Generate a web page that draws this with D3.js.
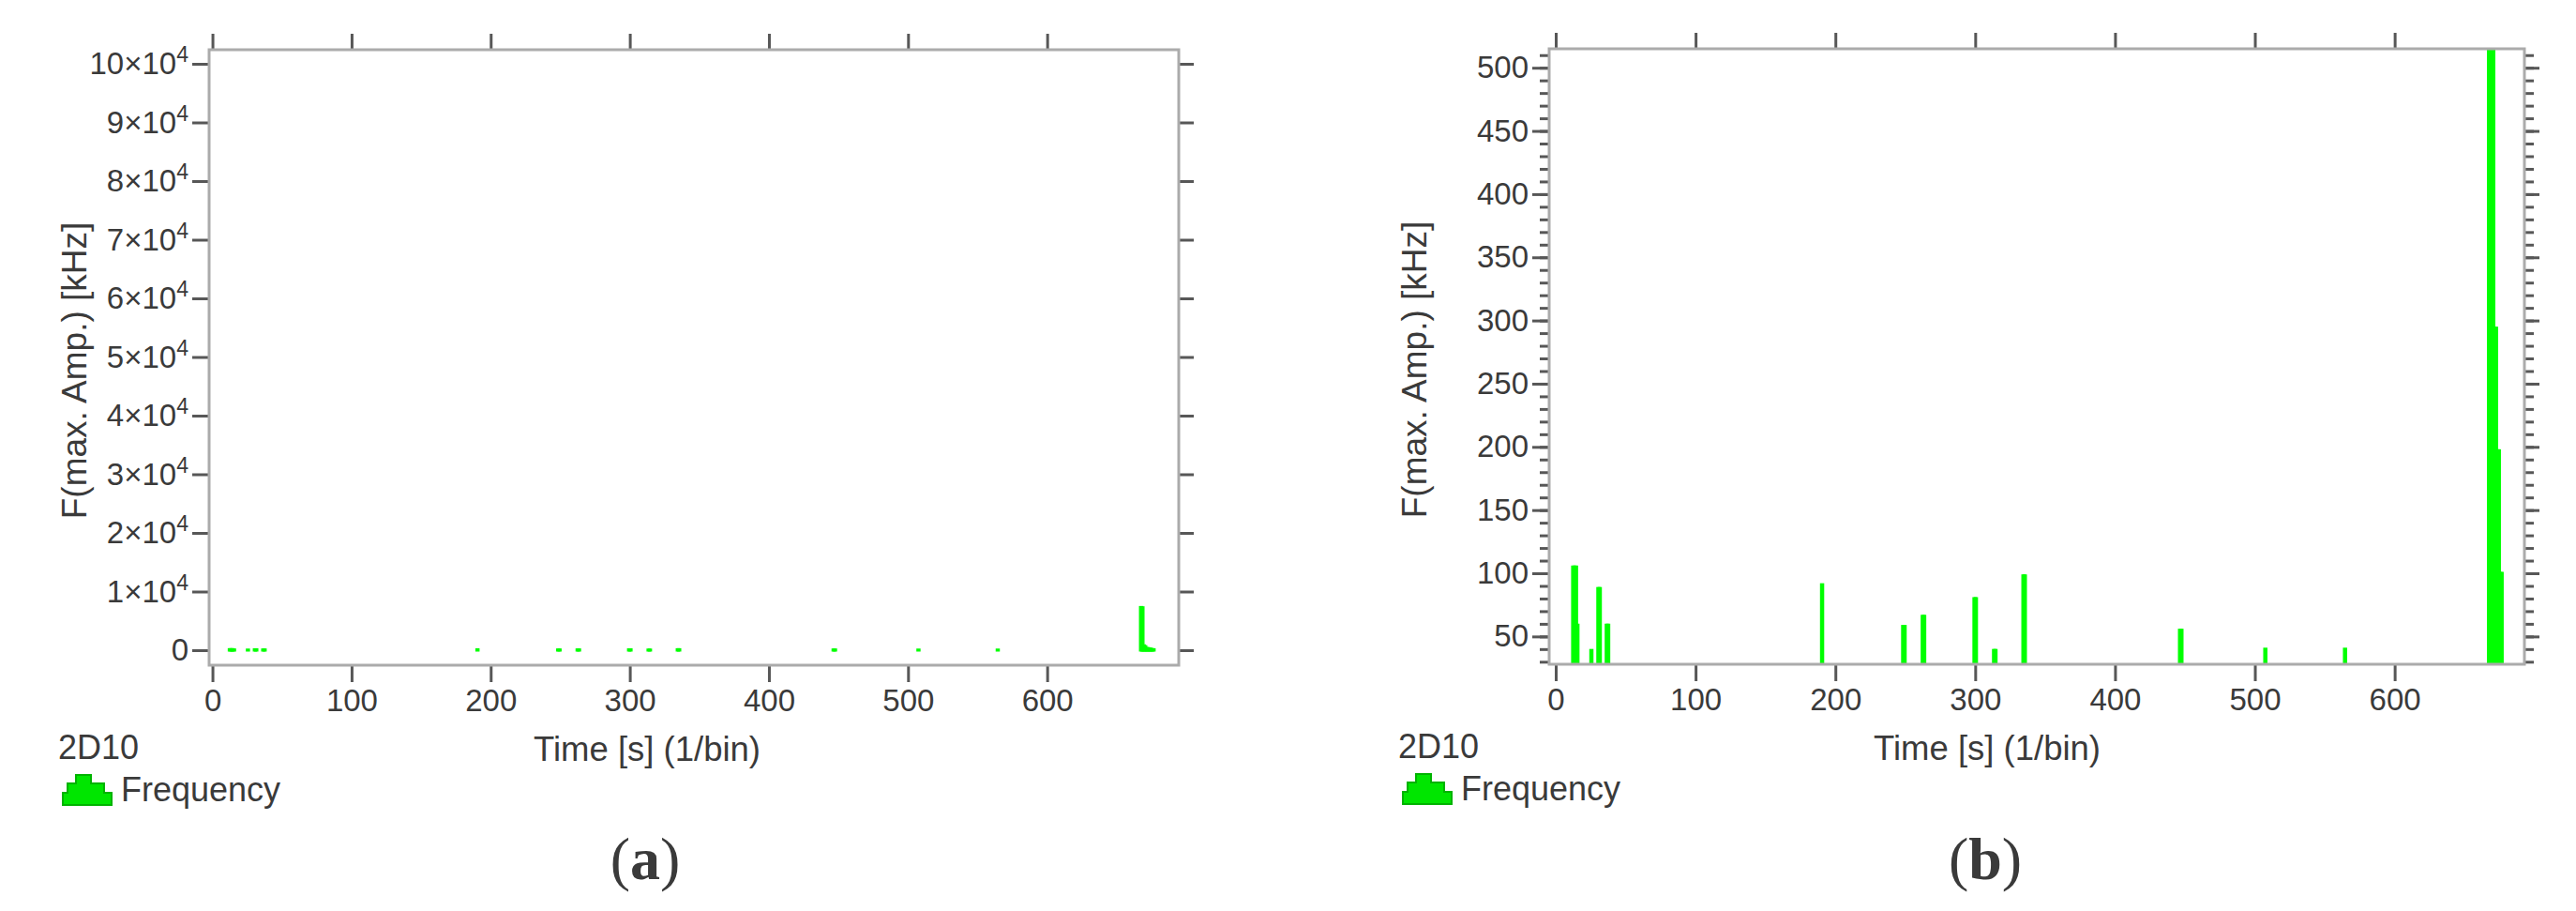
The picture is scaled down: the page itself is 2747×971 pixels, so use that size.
<!DOCTYPE html>
<html>
<head>
<meta charset="utf-8">
<script src="https://cdn.jsdelivr.net/npm/d3@7"></script>
<style>
  html, body { margin: 0; padding: 0; background: #fff; }
  svg text { font-family: "Liberation Sans", Arial, sans-serif; fill: #3a3a3a; }
</style>
</head>
<body>
<svg id="chart" width="2747" height="971"></svg>
<script>
// histogram bins, 1 s wide: bin start [s] and F(max. Amp.) [kHz]
const binStart = [12, 13, 14, 15, 25, 30, 31, 36, 37, 190, 248, 249, 262, 263, 299, 300,
  313, 314, 334, 335, 446, 447, 507, 564, 667, 668, 669, 670, 671, 672, 673, 674, 675, 676];
const frequency = [105, 105, 105, 59, 39, 88, 88, 59, 59, 91, 58, 58, 66, 66, 80, 80,
  39, 39, 98, 98, 55, 55, 40, 40, 7300, 7250, 760, 620, 294, 294, 197, 197, 100, 100];

const xTicks = [0, 100, 200, 300, 400, 500, 600];
const yTicksA = [0, 1e4, 2e4, 3e4, 4e4, 5e4, 6e4, 7e4, 8e4, 9e4, 10e4];
const yTicksB = [50, 100, 150, 200, 250, 300, 350, 400, 450, 500];
const yMinorB = d3.range(30, 511, 10);

const bins = binStart.map((t, i) => ({ t, v: frequency[i] }));

const svg = d3.select('#chart');
const green = '#00ff00';
const frameColor = '#ababab';
const tickColor = '#575757';

function drawPanel(p) {
  const x = d3.scaleLinear().domain(p.xDomain).range([p.left, p.right]);
  const y = d3.scaleLinear().domain(p.yDomain).range([p.bottom, p.top]);
  const g = svg.append('g');

  const clipId = 'clip-' + p.id;
  g.append('clipPath').attr('id', clipId)
    .append('rect')
    .attr('x', p.left).attr('y', p.top)
    .attr('width', p.right - p.left).attr('height', p.bottom - p.top);

  // bars
  g.append('g').attr('clip-path', `url(#${clipId})`)
    .selectAll('rect')
    .data(bins)
    .join('rect')
    .attr('x', d => x(d.t))
    .attr('width', d => x(d.t + 1) - x(d.t))
    .attr('y', d => y(d.v))
    .attr('height', d => Math.max(0, y(0) - y(d.v)))
    .attr('fill', green)
    .attr('stroke', green)
    .attr('stroke-width', 3);

  const styleAxis = sel => {
    sel.select('.domain').remove();
    sel.selectAll('.tick line').attr('stroke', tickColor).attr('stroke-width', 3);
    sel.selectAll('.tick text').attr('font-size', 33).attr('fill', '#3a3a3a');
  };

  // bottom
  g.append('g').attr('transform', `translate(0,${p.bottom})`)
    .call(d3.axisBottom(x).tickValues(xTicks).tickSize(18).tickPadding(8).tickFormat(d3.format('d')))
    .call(styleAxis);
  // top
  g.append('g').attr('transform', `translate(0,${p.top})`)
    .call(d3.axisTop(x).tickValues(xTicks).tickSize(17).tickFormat(''))
    .call(styleAxis);

  // minor y ticks
  if (p.minor) {
    g.append('g').attr('transform', `translate(${p.left},0)`)
      .call(d3.axisLeft(y).tickValues(p.minor).tickSize(10).tickFormat(''))
      .call(styleAxis);
    g.append('g').attr('transform', `translate(${p.right},0)`)
      .call(d3.axisRight(y).tickValues(p.minor).tickSize(10).tickFormat(''))
      .call(styleAxis);
  }

  // left
  const left = g.append('g').attr('transform', `translate(${p.left},0)`)
    .call(d3.axisLeft(y).tickValues(p.yTicks).tickSize(18).tickPadding(4).tickFormat(d3.format('d')))
    .call(styleAxis);
  if (p.sci) {
    left.selectAll('.tick text').each(function (d) {
      const t = d3.select(this);
      if (d === 0) return;
      t.text(null);
      t.append('tspan').text(`${d / 1e4}×10`);
      t.append('tspan').text('4').attr('font-size', 23).attr('dy', '-0.55em');
    });
  }
  // right
  g.append('g').attr('transform', `translate(${p.right},0)`)
    .call(d3.axisRight(y).tickValues(p.yTicks).tickSize(16).tickFormat(''))
    .call(styleAxis);

  // frame
  g.append('rect')
    .attr('x', p.left).attr('y', p.top)
    .attr('width', p.right - p.left).attr('height', p.bottom - p.top)
    .attr('fill', 'none').attr('stroke', frameColor).attr('stroke-width', 3);

  // axis titles
  g.append('text')
    .attr('transform', `translate(${p.left - 131},${(p.top + p.bottom) / 2 + 14}) rotate(-90)`)
    .attr('text-anchor', 'middle').attr('font-size', 37)
    .text('F(max. Amp.) [kHz]');
  g.append('text')
    .attr('x', p.left + 467).attr('y', p.bottom + 102)
    .attr('text-anchor', 'middle').attr('font-size', 36.5)
    .text('Time [s] (1/bin)');

  // legend
  const lx = p.left - 161;
  g.append('text').attr('x', lx).attr('y', p.bottom + 100).attr('font-size', 36).text('2D10');
  const ix = lx + 5, iy = p.bottom + 117;
  const icon = `M${ix},${iy + 32} V${iy + 19} H${ix + 5} V${iy + 9} H${ix + 14} V${iy} H${ix + 30} V${iy + 9} H${ix + 44} V${iy + 19} H${ix + 52} V${iy + 32} Z`;
  g.append('path').attr('d', icon)
    .attr('fill', '#00e600').attr('stroke', '#00b300').attr('stroke-width', 2);
  g.append('text').attr('x', lx + 67).attr('y', p.bottom + 145).attr('font-size', 36).text('Frequency');

  // panel letter
  const lab = g.append('text')
    .attr('x', p.left + 465).attr('y', 937)
    .attr('text-anchor', 'middle')
    .style('font-family', '"Liberation Serif", "Times New Roman", serif')
    .attr('font-size', 64).attr('fill', '#1a1a1a');
  lab.append('tspan').text('(');
  lab.append('tspan').attr('font-weight', 'bold').text(p.id);
  lab.append('tspan').text(')');
}

drawPanel({
  id: 'a', left: 223, right: 1257, top: 53, bottom: 709,
  xDomain: [-2.4, 694.6], yDomain: [-2560, 102400],
  yTicks: yTicksA, sci: true
});
drawPanel({
  id: 'b', left: 1652, right: 2692, top: 52, bottom: 708,
  xDomain: [-4.7, 692.8], yDomain: [28, 515],
  yTicks: yTicksB, minor: yMinorB, sci: false
});
</script>
</body>
</html>
